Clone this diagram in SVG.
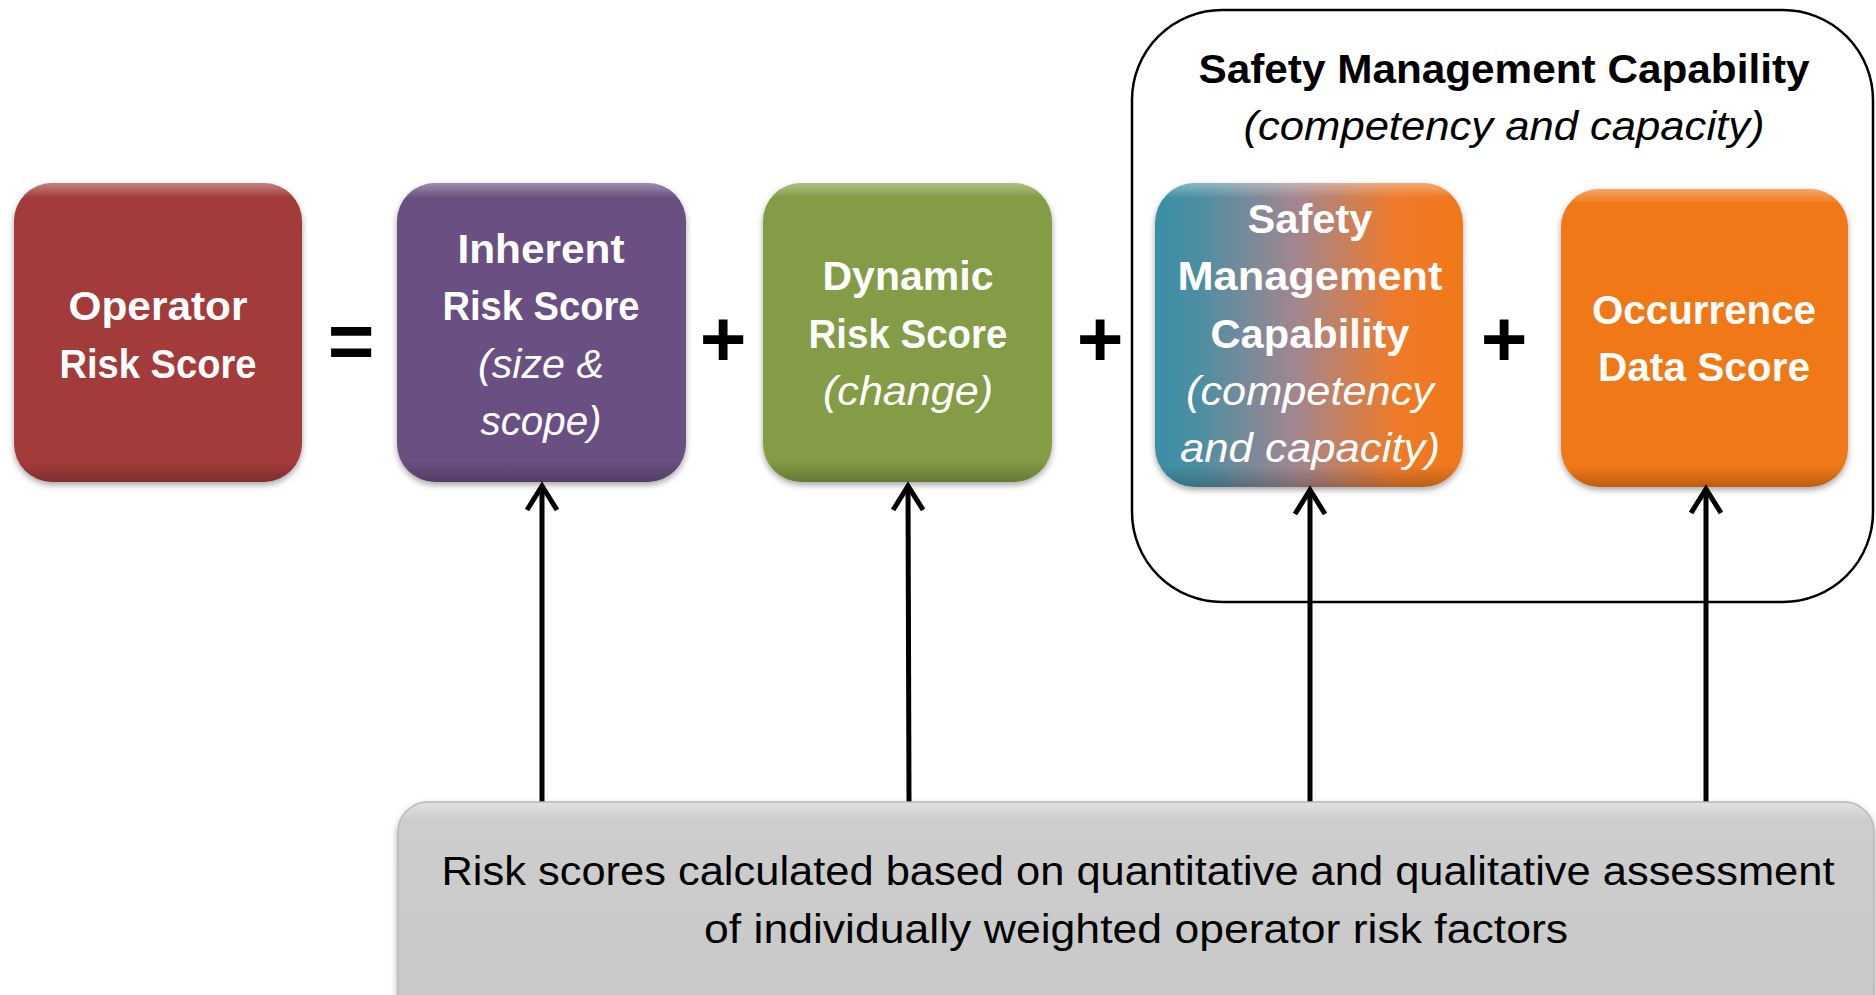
<svg xmlns="http://www.w3.org/2000/svg" width="1876" height="995" viewBox="0 0 1876 995">
<style>
.nt{font-family:"Liberation Sans",Arial,sans-serif;font-size:40px;font-weight:bold;fill:#fff;text-anchor:middle}
.ni{font-family:"Liberation Sans",Arial,sans-serif;font-size:40px;font-style:italic;fill:#fff;text-anchor:middle}
.op{font-family:"Liberation Sans",Arial,sans-serif;font-size:80px;font-weight:bold;fill:#000;text-anchor:middle}
.ct{font-family:"Liberation Sans",Arial,sans-serif;font-size:40px;font-weight:bold;fill:#000;text-anchor:middle}
.ci{font-family:"Liberation Sans",Arial,sans-serif;font-size:40px;font-style:italic;fill:#000;text-anchor:middle}
.bt{font-family:"Liberation Sans",Arial,sans-serif;font-size:40px;fill:#000;text-anchor:middle}
.bev{fill:url(#bevel)}
.conn{stroke:#000;stroke-width:5;fill:none}
</style>
<defs>
<linearGradient id="bevel" x1="0" y1="0" x2="0" y2="1">
<stop offset="0" stop-color="#fff" stop-opacity="0.35"/>
<stop offset="0.05" stop-color="#fff" stop-opacity="0"/>
<stop offset="0.93" stop-color="#000" stop-opacity="0"/>
<stop offset="1" stop-color="#000" stop-opacity="0.22"/>
</linearGradient>
<linearGradient id="smc" x1="0" y1="0" x2="1" y2="0">
<stop offset="0" stop-color="#3A8FA8"/>
<stop offset="0.15" stop-color="#4E8EA2"/>
<stop offset="0.45" stop-color="#A08690"/>
<stop offset="0.78" stop-color="#EE7A2A"/>
<stop offset="1" stop-color="#F07818"/>
</linearGradient>
<linearGradient id="grey" x1="0" y1="0" x2="0" y2="1">
<stop offset="0" stop-color="#E2E2E2"/>
<stop offset="0.08" stop-color="#CDCDCD"/>
<stop offset="1" stop-color="#C8C8C8"/>
</linearGradient>
<filter id="sh" x="-10%" y="-10%" width="120%" height="125%">
<feDropShadow dx="0" dy="3" stdDeviation="3" flood-color="#000" flood-opacity="0.35"/>
</filter>
<marker id="chev" markerUnits="userSpaceOnUse" markerWidth="40" markerHeight="40" viewBox="0 0 40 40" refX="30" refY="20" orient="auto" overflow="visible">
<path d="M6,5 L30,20 L6,35" fill="none" stroke="#000" stroke-width="5" stroke-linejoin="miter"/>
</marker>
</defs>
<rect width="1876" height="995" fill="#fff"/>

<g id="container">
<rect x="1132" y="10" width="741" height="592" rx="90" ry="90" fill="none" stroke="#000" stroke-width="2.5"/>
<text class="ct" x="1504" y="83" textLength="611" lengthAdjust="spacingAndGlyphs">Safety Management Capability</text>
<text class="ci" x="1504" y="140" textLength="521" lengthAdjust="spacingAndGlyphs">(competency and capacity)</text>
</g>

<g id="operator">
<rect x="14" y="183" width="288" height="299" rx="38" fill="#A33B3A" filter="url(#sh)"/>
<rect x="14" y="183" width="288" height="299" rx="38" class="bev"/>
<text class="nt" x="158" y="320" textLength="179" lengthAdjust="spacingAndGlyphs">Operator</text>
<text class="nt" x="158" y="378" textLength="197" lengthAdjust="spacingAndGlyphs">Risk Score</text>
</g>

<g id="eq"><text class="op" x="351" y="368">=</text></g>

<g id="inherent">
<rect x="397" y="183" width="289" height="299" rx="38" fill="#6A5082" filter="url(#sh)"/>
<rect x="397" y="183" width="289" height="299" rx="38" class="bev"/>
<text class="nt" x="541" y="263" textLength="167" lengthAdjust="spacingAndGlyphs">Inherent</text>
<text class="nt" x="541" y="320" textLength="197" lengthAdjust="spacingAndGlyphs">Risk Score</text>
<text class="ni" x="541" y="378" textLength="126" lengthAdjust="spacingAndGlyphs">(size &amp;</text>
<text class="ni" x="541" y="435" textLength="121" lengthAdjust="spacingAndGlyphs">scope)</text>
</g>

<g id="plus1"><text class="op" x="723" y="366">+</text></g>

<g id="dynamic">
<rect x="763" y="183" width="289" height="299" rx="38" fill="#839C44" filter="url(#sh)"/>
<rect x="763" y="183" width="289" height="299" rx="38" class="bev"/>
<text class="nt" x="908" y="290" textLength="171" lengthAdjust="spacingAndGlyphs">Dynamic</text>
<text class="nt" x="908" y="348" textLength="199" lengthAdjust="spacingAndGlyphs">Risk Score</text>
<text class="ni" x="908" y="405" textLength="170" lengthAdjust="spacingAndGlyphs">(change)</text>
</g>

<g id="plus2"><text class="op" x="1100" y="366">+</text></g>

<g id="smcnode">
<rect x="1155" y="183" width="308" height="304" rx="40" fill="url(#smc)" filter="url(#sh)"/>
<rect x="1155" y="183" width="308" height="304" rx="40" class="bev"/>
<text class="nt" x="1310" y="233" textLength="125" lengthAdjust="spacingAndGlyphs">Safety</text>
<text class="nt" x="1310" y="290" textLength="265" lengthAdjust="spacingAndGlyphs">Management</text>
<text class="nt" x="1310" y="348" textLength="199" lengthAdjust="spacingAndGlyphs">Capability</text>
<text class="ni" x="1310" y="405" textLength="248" lengthAdjust="spacingAndGlyphs">(competency</text>
<text class="ni" x="1310" y="462" textLength="260" lengthAdjust="spacingAndGlyphs">and capacity)</text>
</g>

<g id="plus3"><text class="op" x="1504" y="366">+</text></g>

<g id="occurrence">
<rect x="1561" y="189" width="287" height="298" rx="38" fill="#F07818" filter="url(#sh)"/>
<rect x="1561" y="189" width="287" height="298" rx="38" class="bev"/>
<text class="nt" x="1704" y="324" textLength="224" lengthAdjust="spacingAndGlyphs">Occurrence</text>
<text class="nt" x="1704" y="381" textLength="212" lengthAdjust="spacingAndGlyphs">Data Score</text>
</g>

<g id="connectors">
<line class="conn" x1="542" y1="802" x2="542" y2="486" marker-end="url(#chev)"/>
<line class="conn" x1="909" y1="802" x2="908" y2="486" marker-end="url(#chev)"/>
<line class="conn" x1="1310" y1="802" x2="1310" y2="490" marker-end="url(#chev)"/>
<line class="conn" x1="1706" y1="804" x2="1706" y2="489" marker-end="url(#chev)"/>
</g>

<g id="factors">
<rect x="398" y="802" width="1476" height="230" rx="30" fill="url(#grey)" stroke="#B8B8B8" stroke-width="1.5" filter="url(#sh)"/>
<text class="bt" x="1138" y="885" textLength="1393" lengthAdjust="spacingAndGlyphs">Risk scores calculated based on quantitative and qualitative assessment</text>
<text class="bt" x="1136" y="943" textLength="864" lengthAdjust="spacingAndGlyphs">of individually weighted operator risk factors</text>
</g>
</svg>
